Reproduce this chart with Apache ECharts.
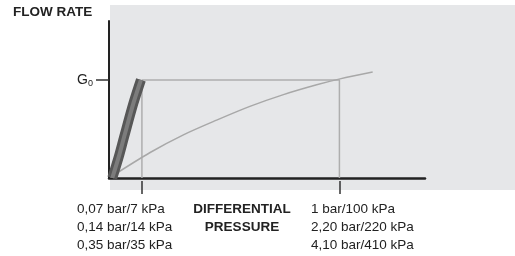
<!DOCTYPE html>
<html>
<head>
<meta charset="utf-8">
<script src="https://cdn.jsdelivr.net/npm/echarts@6/dist/echarts.min.js"></script>
<style>
  html, body { margin: 0; padding: 0; background: #fff; }
  #main { width: 515px; height: 256px; }
</style>
</head>
<body>
<div id="main"></div>
<script>
// values (arbitrary schematic units)
var yTitle = 'FLOW RATE';
var xTitle = 'DIFFERENTIAL\nPRESSURE';
var g0Value = 1;
var tickValues = [1, 7];
var lowLabels = ['0,07 bar/7 kPa', '0,14 bar/14 kPa', '0,35 bar/35 kPa'];
var highLabels = ['1 bar/100 kPa', '2,20 bar/220 kPa', '4,10 bar/410 kPa'];

// guide lines to G0
var guideX = [1, 1, 7, 7];
var guideY = [0, 1, 1, 0];

// thin curve (large valve)
var thinX = [0.05, 1.25, 2.26, 3.27, 4.28, 5.3, 6.31, 7.02, 8.01];
var thinY = [0.01, 0.26, 0.44, 0.59, 0.73, 0.85, 0.95, 1.01, 1.08];

// thick curve (small valve)
var thickX = [0.1, 0.3, 0.46, 0.74, 0.97];
var thickY = [0, 0.22, 0.42, 0.76, 1.0];

function pairs(xs, ys) {
    return xs.map(function (x, i) { return [x, ys[i]]; });
}

var font = '"Liberation Sans", Arial, Helvetica, sans-serif';

var myChart = echarts.init(document.getElementById('main'));
myChart.setOption({
    animation: false,
    title: {
        text: yTitle,
        left: 13,
        top: 5,
        padding: 0,
        textStyle: { fontFamily: font, fontSize: 13.5, fontWeight: 'bold', color: '#222' }
    },
    graphic: [
        {
            type: 'rect',
            z: -10,
            silent: true,
            shape: { x: 110, y: 5, width: 405, height: 185 },
            style: { fill: '#e6e7e9' }
        },
        {
            type: 'text',
            left: 77,
            top: 200,
            style: { text: lowLabels.join('\n'), font: '13.5px ' + font, lineHeight: 18, fill: '#222' }
        },
        {
            type: 'text',
            left: 311,
            top: 200,
            style: { text: highLabels.join('\n'), font: '13.5px ' + font, lineHeight: 18, fill: '#222' }
        },
        {
            type: 'text',
            x: 242,
            y: 200,
            style: { text: xTitle, font: 'bold 13.5px ' + font, lineHeight: 18, fill: '#222', align: 'center', verticalAlign: 'top' }
        }
    ],
    grid: { left: 109, right: 90, top: 21, bottom: 78 },
    xAxis: [
        {
            type: 'value', min: 0, max: 9.6,
            axisLine: { show: true, lineStyle: { color: '#222', width: 2.5 } },
            axisTick: { show: false },
            axisLabel: { show: false },
            splitLine: { show: false }
        },
        {
            type: 'value', min: 0, max: 9.6, position: 'bottom', offset: 3,
            axisLine: { show: false },
            axisTick: { show: true, customValues: tickValues, length: 13, lineStyle: { color: '#333', width: 1.5 } },
            axisLabel: { show: false },
            splitLine: { show: false }
        }
    ],
    yAxis: {
        type: 'value', min: 0, max: 1.6,
        axisLine: { show: true, lineStyle: { color: '#222', width: 2 } },
        axisTick: { show: true, customValues: [g0Value], length: 13, lineStyle: { color: '#333', width: 1.5 } },
        axisLabel: {
            customValues: [g0Value],
            margin: 16,
            formatter: function () { return '{g|G}{s|0}'; },
            rich: {
                g: { fontFamily: font, fontSize: 14, color: '#222', lineHeight: 16 },
                s: { fontFamily: font, fontSize: 9, color: '#222', verticalAlign: 'bottom', lineHeight: 9, padding: [6, 0, 0, 0] }
            }
        },
        splitLine: { show: false }
    },
    series: [
        {
            type: 'line',
            data: pairs(guideX, guideY),
            symbol: 'none',
            silent: true,
            lineStyle: { color: '#aeaeae', width: 1.5 }
        },
        {
            type: 'line',
            data: pairs(thinX, thinY),
            symbol: 'none',
            smooth: 0.3,
            silent: true,
            lineStyle: { color: '#a8a8a8', width: 1.5 }
        },
        {
            type: 'line',
            data: pairs(thickX, thickY),
            symbol: 'none',
            smooth: 0.3,
            silent: true,
            lineStyle: { color: '#575757', width: 10, cap: 'butt' }
        },
        {
            type: 'line',
            data: pairs(thickX, thickY),
            symbol: 'none',
            smooth: 0.3,
            silent: true,
            lineStyle: { color: '#7c7c7c', width: 4, cap: 'butt' }
        }
    ]
});
</script>
</body>
</html>
